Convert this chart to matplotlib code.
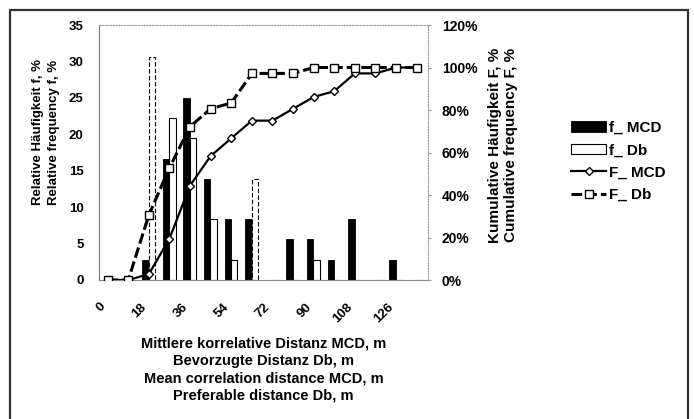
import matplotlib
matplotlib.use("Agg")
import matplotlib.pyplot as plt
import matplotlib.transforms as mtransforms
from matplotlib.patches import Rectangle
import numpy as np

plt.rcParams['font.family'] = ['Liberation Sans', 'DejaVu Sans']
plt.rcParams['font.weight'] = 'bold'
plt.rcParams['axes.labelweight'] = 'bold'

# distance classes, 9 m wide
distance = [0, 9, 18, 27, 36, 45, 54, 63, 72, 81, 90, 99, 108, 117, 126, 135]
f_mcd = [0, 0, 2.78, 16.67, 25.0, 13.89, 8.33, 8.33, 0, 5.56, 5.56, 2.78, 8.33, 0, 2.78, 0]
f_db = [0, 0, 30.56, 22.22, 19.44, 8.33, 2.78, 13.89, 0, 0, 2.78, 0, 0, 0, 0, 0]
F_mcd = [0, 0, 2.78, 19.44, 44.44, 58.33, 66.67, 75.0, 75.0, 80.56, 86.11, 88.89, 97.22, 97.22, 100, 100]
F_db = [0, 0, 30.56, 52.78, 72.22, 80.56, 83.33, 97.22, 97.22, 97.22, 100, 100, 100, 100, 100, 100]
tick_labels = ['0', '18', '36', '54', '72', '90', '108', '126']

x = np.arange(len(distance))

fig = plt.figure(figsize=(6.94, 4.19), dpi=100)
ax = fig.add_axes([99/694, 1-280/419, 329/694, 255/419])
ax2 = ax.twinx()

w = 0.31
b1 = ax.bar(x - 0.17, f_mcd, w, color='black', edgecolor='black', linewidth=0.6, label='f_ MCD')
b2 = ax.bar(x + 0.14, f_db, w, color='white', edgecolor='black', linewidth=0.8, label='f_ Db')
for i in (2, 7):
    b2.patches[i].set_linestyle((0, (4, 2)))

l1, = ax2.plot(x, F_mcd, color='black', lw=1.6, marker='D', ms=4.2,
               mfc='white', mec='black', mew=1.0, label='F_ MCD')
l2, = ax2.plot(x, F_db, color='black', lw=2.2, ls=(0, (3.5, 1.3)), marker='s', ms=6,
               mfc='white', mec='black', mew=1.0, label='F_ Db')

ax.set_xlim(-0.42, 15.55)
ax.set_ylim(0, 35)
ax.set_yticks(np.arange(0, 36, 5))
ax2.set_ylim(0, 120)
ax2.set_yticks(np.arange(0, 121, 20))
ax2.set_yticklabels([f'{v}%' for v in range(0, 121, 20)])

ax.set_xticks(x[::2])
ax.set_xticklabels(tick_labels, rotation=45, ha='right', va='top')
offset = mtransforms.ScaledTranslation(-7/100, 0, fig.dpi_scale_trans)
for lab in ax.get_xticklabels():
    lab.set_transform(lab.get_transform() + offset)
ax.tick_params(axis='x', length=0, pad=15, labelsize=9.5)
ax.tick_params(axis='y', length=0, pad=11, labelsize=9.5)
ax2.tick_params(axis='y', length=2, pad=8, labelsize=10, color='#999999')

for a in (ax, ax2):
    for s in a.spines.values():
        s.set_visible(False)
ax.spines['left'].set_visible(True)
ax.spines['left'].set_color('#777777')
ax.spines['bottom'].set_visible(True)
ax.spines['bottom'].set_color('#888888')
ax.spines['top'].set_visible(True)
ax.spines['top'].set_color('#999999')
ax.spines['top'].set_linestyle((0, (1, 1.5)))
ax2.spines['right'].set_visible(True)
ax2.spines['right'].set_color('#999999')
ax2.spines['right'].set_linestyle((0, (1, 1.5)))

ax.set_xlabel('Mittlere korrelative Distanz MCD, m\nBevorzugte Distanz Db, m\n'
              'Mean correlation distance MCD, m\nPreferable distance Db, m',
              fontsize=10.5, fontweight='bold', linespacing=1.33, labelpad=8)

fig.text(46/694, 1-132/419, 'Relative Häufigkeit f, %\nRelative frequency f, %',
         rotation=90, ha='center', va='center', fontsize=9.5, linespacing=1.45)
fig.text(503/694, 1-145/419, 'Kumulative Häufigkeit F, %\nCumulative frequency F, %',
         rotation=90, ha='center', va='center', fontsize=11, linespacing=1.1)

fig.legend([b1, b2, l1, l2], ['f_ MCD', 'f_ Db', 'F_ MCD', 'F_ Db'],
           loc='upper left', bbox_to_anchor=(571/694, 1-121/419), frameon=False,
           fontsize=11, handlelength=2.3, handletextpad=0.2, labelspacing=0.55,
           borderpad=0, borderaxespad=0)

fig.patches.append(Rectangle((9.5/694, -0.1), (688-9.5)/694, 1.1-10/419,
                             transform=fig.transFigure, fill=False,
                             edgecolor='#333333', linewidth=1.6))

fig.savefig('out.png', dpi=100)
